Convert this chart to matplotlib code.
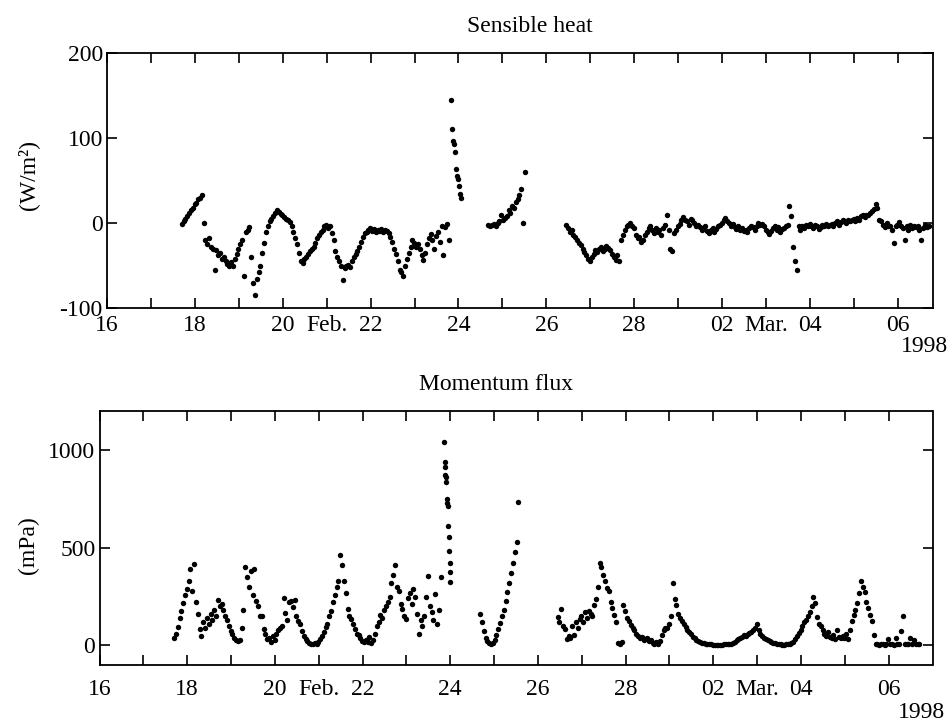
import numpy as np
import matplotlib
matplotlib.use("Agg")
import matplotlib.pyplot as plt

plt.rcParams['font.family'] = ['Liberation Serif', 'DejaVu Serif']

# ---- x axis: days since 16 Feb 1998 00:00 ----
tick_days = list(range(0, 19))
tick_labels = ['16', '', '18', '', '20', 'Feb.', '22', '', '24', '', '26', '',
               '28', '', '02', 'Mar.', '04', '', '06']

HOUR = 1 / 24

# ---- Sensible heat (W/m^2) ----
heat_a_start = 1.70
heat_a = [-1, 2, 5, 8, 12, 15, 18, 22, 24, 28, 30, 33,
          0, -20, -25, -18, -28, -30, -55, -32, -38, -35, -42, -40,
          -45, -48, -50, -46, -50, -42, -36, -30, -25, -20, -62, -10,
          -8, -5, -40, -70, -85, -66, -58, -50, -35, -23, -10, -4,
          2, 5, 8, 12, 15, 13, 11, 9, 7, 5, 3, 1,
          -4, -10, -18, -25, -35, -45, -47, -42, -40, -37, -33, -30,
          -28, -23, -18, -14, -10, -8, -4, -2, -6, -3, -12, -20,
          -33, -40, -45, -51, -67, -53, -50, -49, -52, -45, -40, -37,
          -33, -28, -22, -17, -12, -10, -8, -6, -9, -7, -10, -8,
          -9, -7, -10, -8, -9, -12, -16, -22, -30, -36, -45, -55,
          -58, -62, -50, -42, -35, -28, -20, -24, -28, -25, -31, -38,
          -43, -35, -25, -18, -13, -20, -30, -15, -10, -22, -3, -38, -5, -1, -20]
heat_spike_start = 7.84
heat_spike = [145, 110, 97, 93, 83, 64, 55, 52, 44, 34, 30]
heat_b_start = 8.68
heat_b = [-2, -3, -2, -1, -3, 0, 2, 10, 4, 6, 8, 15, 12, 20, 18, 25, 28, 33, 40, 0, 60]
heat_c_start = 10.45
heat_c = [-2, -6, -10, -8, -14, -16, -20, -24, -26, -30, -34, -38,
          -42, -45, -40, -36, -32, -34, -30, -28, -33, -30, -27, -29,
          -32, -36, -40, -43, -38, -45, -20, -14, -8, -4, -2, 0,
          -3, -6, -14, -18, -16, -22, -20, -14, -10, -6, -4, -8,
          -12, -6, -10, -8, -14, -6, -2, 10, -8, -30, -33, -12,
          -8, -3, -1, 3, 7, 4, 2, -2, 5, 3, 0, -4,
          -2, -5, -8, -6, -4, -9, -12, -8, -6, -10, -7, -4,
          -2, 0, 3, 6, 2, 0, -3, -1, -5, -7, -4, -8,
          -6, -9, -8, -10, -6, -4, -5, -8, -3, 0, -2, -1,
          -4, -8, -10, -13, -9, -6, -4, -8, -5, -10, -7, -6,
          -4, -2, 20, 8, -28, -45, -55, -4, -8, -3, -6, -2,
          -4, -1, -3, -6, -2, -4, -7, -5, -2, -3, -1, -4,
          -2, -1, -4, 0, 2, -2, 1, 3, 2, 0, 4, 2,
          3, 5, 2, 6, 4, 8, 9, 7, 10, 9, 12, 14,
          16, 22, 18, 4, 2, -2, -5, 0, -4, -3, -8, -24,
          -4, -2, 1, -3, -6, -20, -4, -8, -2, -6, -3, -5,
          -4, -8, -20, -6, -2, -5, -4]

# ---- Momentum flux (mPa) ----
mom_a_start = 1.70
mom_a = [36, 60, 95, 140, 175, 215, 260, 290, 330, 390, 280, 419,
         220, 160, 85, 50, 120, 90, 140, 110, 160, 130, 180, 150,
         232, 200, 210, 181, 150, 130, 100, 75, 60, 40, 30, 25,
         28, 90, 180, 400, 350, 300, 380, 258, 390, 230, 200, 150,
         150, 85, 60, 35, 40, 20, 50, 30, 60, 78, 90, 100,
         245, 165, 130, 220, 230, 195, 235, 150, 125, 110, 75, 50,
         35, 25, 15, 10, 8, 12, 10, 20, 35, 50, 70, 94,
         110, 150, 178, 220, 260, 300, 330, 463, 410, 330, 270, 187,
         150, 135, 110, 85, 60, 55, 40, 25, 20, 30, 20, 45,
         15, 30, 60, 100, 120, 155, 140, 180, 200, 220, 250, 320,
         360, 410, 300, 278, 212, 185, 150, 135, 245, 270, 212, 290,
         250, 160, 60, 130, 100, 150, 250, 355, 200, 170, 130, 265, 110, 180, 350]
mom_spike_start = 7.86
mom_spike = [1040, 940, 915, 870, 860, 835, 750, 730, 713, 610, 553, 485, 420, 375, 323]
mom_b_start = 8.68
mom_b = [160, 120, 75, 40, 22, 12, 10, 15, 30, 55, 85, 115, 150, 180, 230, 275,
         320, 370, 420, 480, 530, 735]
mom_c_start = 10.45
mom_c = [144, 120, 186, 100, 85, 32, 50, 40, 100, 55, 120, 90,
         135, 150, 120, 170, 140, 175, 160, 150, 205, 240, 300, 420,
         400, 360, 330, 295, 280, 225, 190, 155, 120, 15, 5, 20,
         205, 175, 140, 125, 105, 90, 80, 60, 50, 40, 45, 30,
         35, 40, 25, 30, 15, 5, 20, 10, 25, 55, 80, 90,
         90, 110, 150, 322, 237, 205, 160, 143, 125, 110, 95, 80,
         70, 60, 45, 40, 30, 25, 20, 15, 12, 10, 8, 6,
         5, 4, 3, 3, 2, 4, 3, 5, 6, 5, 8, 10,
         15, 20, 28, 32, 40, 45, 55, 50, 60, 65, 70, 80,
         90, 110, 80, 60, 46, 40, 35, 30, 25, 20, 15, 12,
         10, 8, 5, 4, 3, 5, 8, 10, 15, 20, 35, 50,
         65, 80, 100, 118, 130, 150, 170, 200, 250, 215, 145, 110,
         100, 80, 60, 50, 70, 45, 40, 55, 35, 80, 45, 40,
         50, 40, 60, 35, 80, 125, 155, 180, 216, 270, 330, 300,
         276, 220, 190, 157, 125, 56, 10, 5, 3, 8, 5, 4,
         5, 35, 10, 5, 3, 40, 8, 5, 75, 152, 10, 5,
         8, 40, 5, 30, 10, 5, 8]


def times(start, vals, step):
    return start + np.arange(len(vals)) * step


W, H = 952, 726
fig = plt.figure(figsize=(W / 100, H / 100), dpi=100)
ax1 = fig.add_axes([107 / W, 1 - 308 / H, 826 / W, 255 / H])
ax2 = fig.add_axes([99.5 / W, 1 - 665 / H, 833 / W, 254 / H])

mk = dict(ls='none', marker='o', ms=3.9, mew=0, color='black')

for s, v, st in [(heat_a_start, heat_a, HOUR), (heat_spike_start, heat_spike, HOUR / 2),
                 (heat_b_start, heat_b, HOUR), (heat_c_start, heat_c, HOUR)]:
    ax1.plot(times(s, v, st), v, **mk)
for s, v, st in [(mom_a_start, mom_a, HOUR), (mom_spike_start, mom_spike, HOUR / 4),
                 (mom_b_start, mom_b, HOUR), (mom_c_start, mom_c, HOUR)]:
    ax2.plot(times(s, v, st), v, **mk)

ax1.set_xlim(0, 18.8)
ax1.set_ylim(-100, 200)
ax1.set_yticks([-100, 0, 100, 200])
ax1.set_yticklabels(['-100', '0', '100', '200'])

ax2.set_xlim(0, 19.0)
ax2.set_ylim(-100, 1200)
ax2.set_yticks([0, 500, 1000])
ax2.set_yticklabels(['0', '500', '1000'])

for ax, pad in [(ax1, 5), (ax2, 10)]:
    ax.set_xticks(tick_days)
    ax.set_xticklabels(tick_labels)
    ax.tick_params(axis='x', direction='in', length=7, width=1.2, top=True,
                   bottom=True, labelsize=17, pad=pad)
    ax.tick_params(axis='y', direction='in', length=7, width=1.2, left=True,
                   right=True, labelsize=17, pad=3)
    for sp in ax.spines.values():
        sp.set_linewidth(1.3)

fig.text(530 / W, 1 - 27 / H, 'Sensible heat', ha='center', va='center', fontsize=17)
fig.text(496 / W, 1 - 384 / H, 'Momentum flux', ha='center', va='center', fontsize=17)
fig.text(28 / W, 1 - 175 / H, '(W/m²)', ha='center', va='center', rotation=90, fontsize=17)
fig.text(28 / W, 1 - 545 / H, '(mPa)', ha='center', va='center', rotation=90, fontsize=17)
fig.text(948 / W, 1 - 346 / H, '1998', ha='right', va='center', fontsize=17)
fig.text(945 / W, 1 - 713 / H, '1998', ha='right', va='center', fontsize=17)

fig.savefig('out.png', dpi=100)
